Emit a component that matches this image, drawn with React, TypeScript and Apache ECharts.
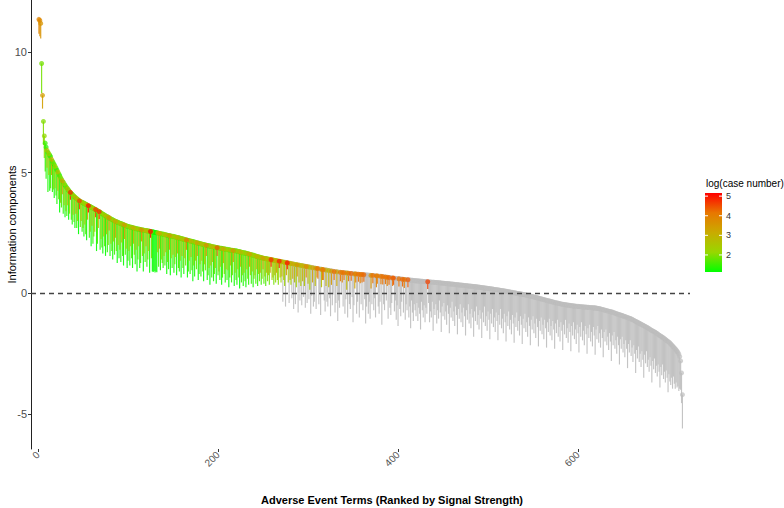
import React, { useEffect, useRef } from "react";
import * as echarts from "echarts";

// Information component (IC) of each adverse event term, ranked by signal strength
const icValues = [
11.35,11.30,11.18,9.52,8.20,7.12,6.52,6.22,6.05,5.92,
5.84,5.78,5.72,5.66,5.55,5.47,5.40,5.33,5.26,5.18,
5.10,5.03,4.96,4.88,4.80,4.73,4.66,4.60,4.54,4.48,
4.42,4.37,4.32,4.27,4.22,4.18,4.14,4.10,4.06,4.02,
3.98,3.95,3.92,3.89,3.86,3.83,3.81,3.79,3.77,3.75,
3.73,3.71,3.69,3.67,3.65,3.63,3.61,3.59,3.57,3.55,
3.53,3.51,3.49,3.47,3.44,3.42,3.40,3.38,3.36,3.33,
3.30,3.28,3.26,3.24,3.21,3.19,3.17,3.15,3.13,3.10,
3.08,3.06,3.04,3.02,3.00,2.98,2.97,2.95,2.94,2.92,
2.90,2.89,2.87,2.86,2.84,2.83,2.81,2.80,2.78,2.77,
2.76,2.75,2.74,2.73,2.72,2.71,2.70,2.69,2.68,2.67,
2.66,2.66,2.65,2.64,2.63,2.63,2.62,2.61,2.60,2.60,
2.59,2.58,2.58,2.57,2.56,2.55,2.55,2.54,2.53,2.52,
2.51,2.51,2.50,2.49,2.48,2.47,2.46,2.46,2.45,2.44,
2.43,2.42,2.41,2.40,2.39,2.39,2.38,2.37,2.36,2.36,
2.35,2.34,2.33,2.32,2.31,2.30,2.29,2.28,2.27,2.26,
2.25,2.24,2.23,2.22,2.21,2.20,2.19,2.18,2.17,2.16,
2.15,2.14,2.13,2.12,2.11,2.10,2.09,2.08,2.07,2.06,
2.05,2.04,2.03,2.02,2.01,2.00,1.99,1.98,1.97,1.97,
1.96,1.95,1.94,1.93,1.92,1.92,1.91,1.90,1.89,1.89,
1.88,1.87,1.86,1.86,1.85,1.84,1.84,1.83,1.82,1.82,
1.81,1.80,1.80,1.79,1.78,1.78,1.77,1.77,1.76,1.76,
1.75,1.74,1.73,1.72,1.71,1.70,1.69,1.68,1.68,1.67,
1.66,1.65,1.64,1.63,1.62,1.61,1.60,1.59,1.58,1.57,
1.55,1.54,1.53,1.52,1.51,1.50,1.49,1.48,1.47,1.46,
1.45,1.44,1.44,1.43,1.42,1.41,1.41,1.40,1.39,1.39,
1.38,1.37,1.36,1.36,1.35,1.34,1.33,1.33,1.32,1.31,
1.31,1.30,1.29,1.28,1.28,1.27,1.26,1.25,1.25,1.24,
1.23,1.22,1.22,1.21,1.20,1.19,1.19,1.18,1.17,1.17,
1.16,1.15,1.15,1.14,1.13,1.12,1.12,1.11,1.10,1.10,
1.09,1.08,1.08,1.07,1.06,1.05,1.05,1.04,1.03,1.03,
1.02,1.01,1.01,1.00,0.99,0.98,0.98,0.97,0.97,0.96,
0.96,0.95,0.94,0.94,0.93,0.92,0.92,0.91,0.90,0.90,
0.89,0.89,0.88,0.88,0.87,0.87,0.86,0.86,0.85,0.85,
0.84,0.84,0.84,0.83,0.83,0.82,0.82,0.82,0.81,0.81,
0.80,0.80,0.80,0.79,0.79,0.79,0.78,0.78,0.78,0.78,
0.77,0.77,0.77,0.76,0.76,0.76,0.75,0.75,0.75,0.74,
0.74,0.74,0.73,0.73,0.72,0.72,0.72,0.71,0.71,0.70,
0.70,0.69,0.69,0.68,0.68,0.67,0.67,0.66,0.66,0.65,
0.65,0.64,0.64,0.63,0.63,0.62,0.62,0.61,0.61,0.61,
0.60,0.60,0.59,0.59,0.58,0.58,0.57,0.57,0.56,0.56,
0.56,0.55,0.55,0.54,0.54,0.54,0.53,0.53,0.52,0.52,
0.52,0.51,0.51,0.51,0.50,0.50,0.50,0.49,0.49,0.49,
0.48,0.48,0.48,0.47,0.47,0.47,0.46,0.46,0.46,0.46,
0.45,0.45,0.45,0.44,0.44,0.44,0.43,0.43,0.42,0.42,
0.42,0.41,0.41,0.40,0.40,0.40,0.39,0.39,0.38,0.38,
0.38,0.37,0.37,0.36,0.36,0.36,0.35,0.35,0.34,0.34,
0.34,0.33,0.33,0.32,0.32,0.32,0.31,0.31,0.30,0.30,
0.30,0.29,0.29,0.28,0.28,0.27,0.27,0.26,0.26,0.25,
0.25,0.24,0.24,0.23,0.23,0.22,0.22,0.21,0.21,0.20,
0.20,0.19,0.19,0.18,0.18,0.17,0.16,0.16,0.15,0.15,
0.14,0.14,0.13,0.12,0.12,0.11,0.10,0.10,0.09,0.08,
0.08,0.07,0.06,0.06,0.05,0.04,0.04,0.03,0.02,0.02,
0.01,0.00,-0.01,-0.01,-0.02,-0.03,-0.03,-0.04,-0.05,-0.05,
-0.06,-0.07,-0.08,-0.09,-0.09,-0.10,-0.11,-0.12,-0.13,-0.14,
-0.15,-0.16,-0.17,-0.18,-0.19,-0.20,-0.21,-0.22,-0.23,-0.24,
-0.25,-0.26,-0.27,-0.28,-0.29,-0.30,-0.31,-0.32,-0.33,-0.34,
-0.35,-0.36,-0.37,-0.38,-0.39,-0.40,-0.40,-0.41,-0.42,-0.43,
-0.44,-0.45,-0.45,-0.46,-0.47,-0.47,-0.48,-0.49,-0.49,-0.50,
-0.50,-0.51,-0.51,-0.52,-0.52,-0.53,-0.53,-0.54,-0.54,-0.54,
-0.55,-0.55,-0.55,-0.56,-0.56,-0.56,-0.57,-0.57,-0.57,-0.58,
-0.58,-0.58,-0.59,-0.59,-0.59,-0.60,-0.60,-0.60,-0.61,-0.61,
-0.62,-0.63,-0.63,-0.64,-0.65,-0.66,-0.67,-0.68,-0.69,-0.70,
-0.71,-0.72,-0.73,-0.74,-0.75,-0.76,-0.77,-0.78,-0.79,-0.81,
-0.82,-0.83,-0.85,-0.86,-0.87,-0.88,-0.90,-0.91,-0.92,-0.94,
-0.95,-0.96,-0.98,-0.99,-1.00,-1.02,-1.03,-1.05,-1.06,-1.08,
-1.10,-1.12,-1.14,-1.16,-1.18,-1.20,-1.22,-1.24,-1.26,-1.28,
-1.30,-1.32,-1.34,-1.36,-1.38,-1.40,-1.42,-1.44,-1.47,-1.50,
-1.52,-1.54,-1.56,-1.58,-1.60,-1.62,-1.65,-1.67,-1.70,-1.73,
-1.75,-1.78,-1.80,-1.83,-1.85,-1.88,-1.91,-1.94,-1.97,-2.00,
-2.02,-2.06,-2.10,-2.14,-2.18,-2.22,-2.26,-2.30,-2.35,-2.40,
-2.45,-2.52,-2.62,-2.80,-3.30,-4.20
];

// Lower bound of the IC credibility interval (IC025)
const ic025Values = [
10.75,10.65,10.55,8.30,7.65,6.15,5.60,5.05,4.75,5.20,
4.20,4.90,4.25,4.35,4.90,4.20,4.30,3.95,4.35,4.05,
3.70,4.25,3.90,3.35,3.75,3.55,4.10,3.30,3.65,3.15,
3.40,3.20,3.65,3.05,3.30,3.88,3.05,2.85,3.25,2.95,
2.70,3.30,2.70,3.00,2.45,3.48,2.75,3.00,2.55,2.70,
2.35,2.85,2.45,2.20,3.05,3.35,2.30,2.55,1.95,2.80,
2.05,2.35,2.55,3.15,1.75,2.05,2.70,3.08,1.80,2.25,
1.90,1.65,2.35,1.95,1.55,2.45,1.70,2.00,2.60,1.55,
2.05,1.75,1.40,2.15,1.60,2.30,1.75,1.25,2.00,1.45,
1.80,1.30,2.10,1.55,1.15,2.25,1.60,1.85,1.05,1.35,
1.75,1.15,1.95,1.45,1.05,2.05,1.60,1.20,1.80,0.90,
1.40,1.95,1.05,1.25,2.15,1.55,0.90,1.65,1.30,1.95,
1.10,1.40,1.75,0.85,2.30,1.45,0.90,0.88,0.92,0.86,
0.90,0.87,1.70,1.10,1.85,0.95,1.40,1.25,1.05,1.55,
1.15,1.70,0.80,1.30,1.00,1.80,0.75,1.45,1.05,1.60,
0.85,1.20,1.50,0.75,1.65,1.05,0.90,1.35,0.65,1.55,
1.05,0.80,1.45,1.15,1.80,0.65,0.90,1.35,0.80,1.50,
0.95,0.50,1.15,0.70,1.35,1.00,1.55,0.55,0.80,1.20,
0.70,1.35,0.90,0.50,1.20,0.95,1.55,0.55,0.75,1.05,
0.35,1.15,0.65,1.30,0.50,0.80,1.05,0.40,1.55,0.75,
0.90,0.55,1.10,0.35,0.65,1.25,0.80,0.45,1.00,0.55,
0.95,0.25,0.65,1.15,0.45,0.75,1.30,0.30,0.85,0.55,
0.35,1.00,0.65,0.20,1.10,0.45,0.75,0.30,0.85,0.50,
0.25,1.00,0.60,0.35,1.10,0.75,0.40,0.90,0.25,0.60,
0.75,0.40,1.00,0.30,0.80,0.50,0.85,0.35,0.60,1.00,
0.40,0.70,0.30,0.85,0.50,0.75,0.35,0.85,1.10,0.55,
0.65,0.35,0.75,0.45,0.85,0.55,0.35,1.05,0.65,0.45,
0.70,-0.35,0.55,0.30,-0.55,0.75,1.00,0.45,-0.40,0.55,
0.35,-0.20,0.60,-0.65,0.45,-0.45,0.25,0.70,-0.80,0.45,
-0.30,0.30,-0.50,0.50,-0.15,0.30,-0.60,0.65,-0.40,0.40,
-0.25,0.15,-0.85,-0.10,0.45,-0.55,-0.35,0.30,-0.65,0.65,
0.60,-0.45,-0.05,-0.90,0.25,0.55,0.55,-0.30,-0.75,0.30,
-0.35,-0.55,0.25,-0.20,-0.95,0.35,-0.50,-0.05,0.55,-0.80,
-0.40,0.30,-1.15,-0.30,-0.60,0.50,-0.05,0.45,-0.55,0.55,
-0.85,-0.25,0.15,-1.00,0.50,-0.45,-0.65,0.52,-0.15,-1.20,
-0.50,0.20,0.45,-0.85,-0.35,0.48,-1.00,0.42,-0.45,0.45,
-0.70,0.48,-0.25,-1.25,-0.55,-0.05,-0.85,-0.35,-1.05,0.20,
-0.45,0.42,-0.70,-0.20,-1.00,0.25,0.40,-0.55,-0.85,-0.35,
0.38,-1.30,0.36,-0.45,-0.70,0.38,-0.30,0.30,-1.05,0.35,
-0.60,-0.90,-0.40,0.30,0.35,-0.75,-0.30,-1.10,-0.50,-1.35,
0.28,-0.65,-0.95,-0.35,0.28,-0.80,0.22,-1.10,-0.45,-0.70,
0.25,-1.00,-0.55,-1.45,-0.30,-0.80,-1.15,-0.45,-0.70,-0.95,
-0.40,-1.15,-0.60,-0.85,-1.50,-0.35,-0.70,-1.00,-0.50,-1.20,
-0.60,-0.85,0.18,-0.40,-1.20,-0.75,-1.00,-0.35,-1.55,-0.65,
-0.90,-0.45,-1.25,-0.70,-1.05,-0.30,-0.80,-1.60,-0.55,-0.95,
-0.40,-1.10,-0.75,-1.30,-0.50,-0.85,-1.65,-0.60,-1.00,-0.35,
-1.15,-0.75,-1.35,-0.55,-0.90,-1.70,-0.65,-1.05,-0.45,-1.20,
-0.80,-1.40,-0.60,-0.95,-1.75,-0.70,-1.10,-0.45,-1.25,-0.85,
-1.45,-0.65,-1.00,-1.80,-0.75,-1.15,-0.55,-1.30,-0.90,-1.50,
-0.70,-1.05,-1.85,-0.80,-1.20,-0.55,-1.35,-0.95,-1.55,-0.75,
-1.10,-1.90,-0.85,-1.25,-0.65,-1.40,-1.00,-1.60,-0.80,-1.15,
-1.95,-0.90,-1.30,-0.65,-1.45,-1.05,-1.65,-0.85,-1.20,-2.00,
-0.95,-1.35,-0.75,-1.50,-1.10,-1.70,-0.90,-1.25,-2.05,-1.00,
-1.40,-0.80,-1.55,-1.15,-1.75,-0.95,-1.30,-2.10,-1.05,-1.45,
-0.85,-1.60,-1.20,-1.80,-1.00,-1.35,-2.15,-1.10,-1.50,-0.95,
-1.65,-1.25,-1.85,-1.05,-1.40,-2.20,-1.15,-1.55,-1.00,-1.70,
-1.30,-1.90,-1.10,-1.45,-2.25,-1.20,-1.60,-1.05,-1.75,-1.35,
-1.95,-1.15,-1.50,-2.30,-1.25,-1.65,-1.10,-1.80,-1.40,-2.00,
-1.20,-1.55,-2.35,-1.30,-1.70,-1.10,-1.85,-1.45,-2.05,-1.25,
-1.60,-2.40,-1.35,-1.75,-1.20,-1.90,-1.50,-2.10,-1.30,-1.65,
-2.45,-1.40,-1.80,-1.20,-1.95,-1.55,-2.15,-1.35,-1.70,-2.50,
-1.45,-1.85,-1.30,-2.00,-1.60,-2.20,-1.40,-1.75,-2.55,-1.50,
-1.90,-1.35,-2.05,-1.65,-2.25,-1.50,-1.85,-2.65,-1.60,-2.00,
-1.50,-2.15,-1.80,-2.35,-1.65,-2.00,-2.80,-1.75,-2.15,-1.60,
-2.30,-1.95,-2.50,-1.80,-2.15,-2.95,-1.90,-2.30,-1.80,-2.45,
-2.10,-2.65,-1.95,-2.30,-3.10,-2.10,-2.45,-1.95,-2.60,-2.25,
-2.85,-2.15,-2.50,-3.30,-2.35,-2.70,-2.20,-2.85,-2.50,-3.05,
-2.40,-2.75,-3.50,-2.55,-2.90,-2.40,-3.05,-2.75,-3.25,-2.65,
-3.00,-3.70,-2.80,-3.15,-2.70,-3.30,-3.00,-3.45,-2.95,-3.25,
-3.90,-3.05,-3.40,-2.95,-3.55,-3.25,-3.70,-3.20,-3.50,-4.10,
-3.35,-3.65,-3.80,-3.50,-3.95,-3.45,-3.75,-3.95,-3.70,-3.90,
-3.85,-4.05,-3.95,-4.00,-4.55,-5.60
];

// log(case number) of each term
const logCases = [
3.9,3.7,3.6,1.9,3.4,2.0,2.1,1.5,1.4,2.6,
1.3,2.4,1.2,1.6,3.0,1.4,1.9,1.2,2.2,1.5,
1.3,2.7,1.8,1.1,2.0,1.6,3.3,1.4,2.3,1.2,
1.9,1.5,2.8,1.2,2.1,4.9,1.6,1.3,2.5,1.7,
1.2,3.1,1.5,2.2,1.1,4.6,1.8,2.6,1.4,1.9,
1.3,2.4,1.6,1.2,3.4,5.0,1.5,2.0,1.1,2.7,
1.4,1.8,2.3,4.7,1.2,1.6,3.0,4.8,1.3,2.1,
1.5,1.2,2.5,1.7,1.1,2.9,1.4,1.9,3.6,1.3,
2.2,1.6,1.2,2.6,1.5,3.2,1.8,1.1,2.4,1.4,
2.0,1.3,2.8,1.6,1.2,3.5,1.7,2.3,1.1,1.5,
2.1,1.3,2.6,1.6,1.2,3.1,1.9,1.4,2.4,1.1,
1.7,2.7,1.3,1.5,3.8,2.0,1.2,2.2,1.6,2.9,
1.4,1.8,2.5,1.2,5.1,1.9,1.1,1.1,1.2,1.1,
1.2,1.1,2.6,1.5,3.2,1.3,2.0,1.7,1.4,2.3,
1.6,2.8,1.2,1.9,1.4,3.5,1.1,2.2,1.5,2.6,
1.3,1.8,2.4,1.2,3.0,1.6,1.4,2.1,1.1,2.7,
1.7,1.3,2.5,1.9,4.1,1.2,1.5,2.3,1.4,2.9,
1.6,1.1,2.0,1.3,2.6,1.8,3.3,1.2,1.5,2.2,
1.4,2.8,1.7,1.2,2.4,1.9,3.7,1.3,1.6,2.1,
1.1,2.5,1.5,2.9,1.3,1.8,2.3,1.2,4.4,1.7,
2.0,1.4,2.6,1.2,1.6,3.2,1.9,1.3,2.4,1.5,
2.2,1.1,1.7,2.8,1.4,1.9,3.6,1.2,2.1,1.6,
1.3,2.5,1.8,1.1,2.9,1.5,2.0,1.3,2.3,1.6,
1.2,2.7,1.8,1.4,3.3,2.1,1.5,2.5,1.3,1.9,
2.2,1.6,3.0,1.4,2.4,1.8,2.7,1.5,2.0,3.4,
1.7,2.3,1.6,2.9,2.0,2.6,1.8,3.1,4.8,2.2,
2.5,1.9,2.8,2.1,3.3,2.4,2.0,4.9,2.7,2.3,
3.0,1.6,2.6,2.2,1.4,3.4,5.0,2.5,1.5,2.9,
2.4,1.7,3.2,1.3,2.7,1.5,2.3,3.6,1.2,2.8,
1.6,2.5,1.4,3.1,1.8,2.6,1.3,3.8,1.5,2.9,
1.7,2.4,1.2,1.9,3.3,1.4,1.6,2.8,1.3,4.1,
4.0,1.5,2.0,1.2,2.7,4.1,3.9,1.7,1.3,3.0,
1.6,1.4,2.9,1.8,1.2,3.5,1.5,2.0,4.2,1.3,
1.6,3.2,1.1,1.7,1.4,4.1,2.1,4.0,1.5,4.2,
1.3,1.8,2.9,1.2,4.2,1.6,1.4,4.3,1.9,1.1,
1.5,3.3,4.1,1.3,1.7,4.2,1.2,4.0,1.6,4.2,
1.4,4.3,1.8,1.1,1.5,2.2,1.3,1.7,1.2,3.6,
1.6,4.2,1.4,1.9,1.2,3.9,4.1,1.5,1.3,1.7,
4.1,1.1,4.2,1.6,1.4,4.2,1.8,4.0,1.2,4.3,
1.5,1.3,1.7,4.2,4.4,1.4,1.9,1.2,1.6,1.1,
4.2,1.5,1.3,1.8,4.3,1.4,4.1,1.2,1.7,1.5,
4.4,1.3,1.6,1.1,1.9,1.4,1.2,1.7,1.5,1.3,
1.8,1.2,1.6,1.4,1.1,1.9,1.5,1.3,1.7,1.2,
1.6,1.4,4.6,1.8,1.2,1.5,1.3,1.9,1.1,1.6,
1.4,1.8,1.2,1.6,1.3,2.0,1.5,1.1,1.7,1.4,
1.9,1.3,1.6,1.2,1.8,1.5,1.1,1.7,1.4,2.0,
1.3,1.6,1.2,1.8,1.5,1.1,1.7,1.4,1.9,1.3,
1.6,1.2,1.8,1.5,1.1,1.7,1.4,2.0,1.3,1.6,
1.2,1.8,1.5,1.1,1.7,1.4,1.9,1.3,1.6,1.2,
1.8,1.5,1.1,1.7,1.4,2.0,1.3,1.6,1.2,1.8,
1.5,1.1,1.7,1.4,1.9,1.3,1.6,1.2,1.8,1.5,
1.1,1.7,1.4,2.0,1.3,1.6,1.2,1.8,1.5,1.1,
1.7,1.4,1.9,1.3,1.6,1.2,1.8,1.5,1.1,1.7,
1.4,2.0,1.3,1.6,1.2,1.8,1.5,1.1,1.7,1.4,
1.9,1.3,1.6,1.2,1.8,1.5,1.1,1.7,1.4,2.0,
1.3,1.6,1.2,1.8,1.5,1.1,1.7,1.4,1.9,1.3,
1.6,1.2,1.8,1.5,1.1,1.7,1.4,2.0,1.3,1.6,
1.2,1.8,1.5,1.1,1.7,1.4,1.9,1.3,1.6,1.2,
1.8,1.5,1.1,1.7,1.4,2.0,1.3,1.6,1.2,1.8,
1.5,1.1,1.7,1.4,1.9,1.3,1.6,1.2,1.8,1.5,
1.1,1.7,1.4,2.0,1.3,1.6,1.2,1.8,1.5,1.1,
1.7,1.4,1.9,1.3,1.6,1.2,1.8,1.5,1.1,1.7,
1.4,2.0,1.3,1.6,1.2,1.8,1.5,1.1,1.7,1.4,
1.9,1.3,1.6,1.2,1.8,1.5,1.1,1.7,1.4,2.0,
1.3,1.6,1.2,1.8,1.5,1.1,1.7,1.4,1.9,1.3,
1.6,1.2,1.8,1.5,1.1,1.7,1.4,2.0,1.3,1.6,
1.2,1.8,1.5,1.1,1.7,1.4,1.9,1.3,1.6,1.2,
1.8,1.5,1.1,1.7,1.4,2.0,1.3,1.6,1.2,1.8,
1.5,1.1,1.7,1.4,1.9,1.3,1.6,1.2,1.8,1.5,
1.1,1.7,1.4,1.9,1.3,1.6,1.2,1.8,1.5,1.1,
1.7,1.4,1.3,1.6,1.2,1.8,1.5,1.3,1.6,1.4,
1.5,1.3,1.4,1.6,1.3,1.1
];

const xTickValues = [0, 200, 400, 600];
const yTickValues = [-5, 0, 5, 10];
const legendTickValues = [2, 3, 4, 5];
const colorRange = [1.13, 5.16];
const gradientColors = ["#00FF00", "#98D700", "#C9AB00", "#E87700", "#FF0000"];

const FONT = "'Liberation Sans', Arial, sans-serif";

export default function App() {
  const ref = useRef<HTMLDivElement>(null);

  useEffect(() => {
    if (!ref.current) return;
    const chart = echarts.init(ref.current, null, { renderer: "svg" });

    const rows = icValues.map((ic, i) => [i + 1, ic, ic025Values[i], logCases[i]]);
    // significant terms, drawn from the fewest cases to the most (most cases on top)
    const sigRows = rows.filter((r) => r[2] > 0).sort((a, b) => a[3] - b[3]);
    const nsRows = rows.filter((r) => r[2] <= 0);

    const renderSegment = (params: any, api: any) => {
      const x = api.value(0);
      const p1 = api.coord([x, api.value(1)]);
      const p2 = api.coord([x, api.value(2)]);
      return {
        type: "line",
        shape: { x1: p1[0], y1: p1[1], x2: p2[0], y2: p2[1] },
        style: { stroke: api.visual("color"), lineWidth: 1.15, opacity: 0.9 },
      };
    };

    // legend geometry
    const barX = 705, barY = 193, barW = 17, barH = 79;
    const valToY = (v: number) => barY + barH - ((v - colorRange[0]) / (colorRange[1] - colorRange[0])) * barH;
    const stops = gradientColors.map((c, i) => ({ offset: i / (gradientColors.length - 1), color: c }));

    const legendGraphics: any[] = [
      {
        type: "text", x: 706, y: 183,
        style: { text: "log(case number)", fontSize: 10, fontFamily: FONT, fill: "#000", verticalAlign: "middle", textVerticalAlign: "middle" },
      },
      {
        type: "rect", shape: { x: barX, y: barY, width: barW, height: barH },
        style: { fill: new echarts.graphic.LinearGradient(0, 1, 0, 0, stops) },
      },
    ];
    legendTickValues.forEach((v) => {
      const y = valToY(v);
      legendGraphics.push(
        { type: "line", shape: { x1: barX, y1: y, x2: barX + 3, y2: y }, style: { stroke: "#fff", lineWidth: 1 } },
        { type: "line", shape: { x1: barX + barW - 3, y1: y, x2: barX + barW, y2: y }, style: { stroke: "#fff", lineWidth: 1 } },
        {
          type: "text", x: barX + barW + 4, y,
          style: { text: String(v), fontSize: 9, fontFamily: FONT, fill: "#333", verticalAlign: "middle", textVerticalAlign: "middle" },
        }
      );
    });

    const option: any = {
      animation: false,
      backgroundColor: "#ffffff",
      textStyle: { fontFamily: FONT },
      grid: { left: 31, right: 94, top: 0, bottom: 59, containLabel: false, outerBoundsMode: "none" },
      xAxis: {
        type: "value",
        min: -7.8,
        max: 724.4,
        axisLine: { show: false, onZero: false },
        splitLine: { show: false },
        axisTick: { show: true, length: 3, customValues: xTickValues, lineStyle: { color: "#333" } },
        axisLabel: { customValues: xTickValues, rotate: 45, color: "#555", fontSize: 10, margin: 4, fontFamily: FONT },
      },
      yAxis: {
        type: "value",
        min: -6.45,
        max: 12.15,
        axisLine: { show: true, onZero: false, lineStyle: { color: "#222", width: 1 } },
        axisTick: { show: true, length: 3, customValues: yTickValues, lineStyle: { color: "#333" } },
        axisLabel: { customValues: yTickValues, color: "#4d4d4d", fontSize: 11, margin: 4, fontFamily: FONT },
        splitLine: { show: false },
        name: "Information components",
        nameLocation: "middle",
        nameGap: 14,
        nameMoveOverlap: false,
        nameTextStyle: { color: "#000", fontSize: 11, fontFamily: FONT },
      },
      visualMap: {
        show: false,
        type: "continuous",
        min: colorRange[0],
        max: colorRange[1],
        dimension: 3,
        seriesIndex: [1, 3],
        inRange: { color: gradientColors },
      },
      graphic: [
        ...legendGraphics,
        {
          type: "text", x: 392, y: 500,
          style: {
            text: "Adverse Event Terms (Ranked by Signal Strength)",
            fontSize: 11, fontWeight: "bold", fontFamily: FONT, fill: "#000",
            align: "center", textAlign: "center", verticalAlign: "middle", textVerticalAlign: "middle",
          },
        },
      ],
      series: [
        {
          type: "custom", data: nsRows, renderItem: renderSegment,
          encode: { x: 0, y: [1, 2] }, itemStyle: { color: "#BEBEBE" }, z: 1, silent: true,
        },
        {
          type: "custom", data: sigRows, renderItem: renderSegment,
          encode: { x: 0, y: [1, 2] }, z: 1, silent: true,
        },
        {
          type: "scatter", data: nsRows, symbolSize: 5, encode: { x: 0, y: 1 },
          itemStyle: { color: "#BEBEBE", opacity: 0.7 }, z: 2, silent: true,
        },
        {
          type: "scatter", data: sigRows, symbolSize: 5, encode: { x: 0, y: 1 },
          itemStyle: { opacity: 0.75 }, z: 3, silent: true,
          markLine: {
            silent: true, symbol: ["none", "none"], label: { show: false },
            lineStyle: { color: "#444", type: [5, 4], width: 1.4, opacity: 1 },
            data: [{ yAxis: 0 }],
          },
        },
      ],
    };

    chart.setOption(option);
    return () => chart.dispose();
  }, []);

  return (
    <div
      ref={ref}
      style={{ position: "fixed", left: 0, top: 0, width: 784, height: 508, background: "#fff" }}
    />
  );
}
